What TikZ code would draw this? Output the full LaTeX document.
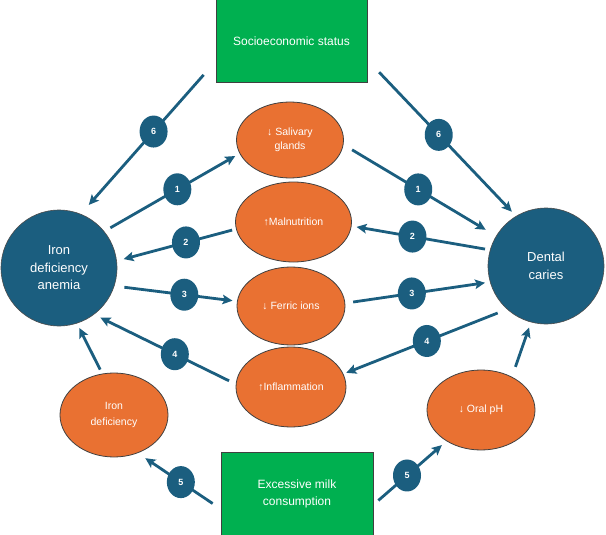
\documentclass[tikz,border=0pt]{standalone}
\usepackage{fontspec}
\setmainfont{Liberation Sans}
\usetikzlibrary{arrows.meta, shapes.geometric}
\definecolor{xblue}{HTML}{1B5E7F}
\definecolor{xorange}{HTML}{E97132}
\definecolor{xgreen}{HTML}{00B050}
\tikzset{
	factor/.style = {draw=black!75, line width=0.9pt, fill=xgreen, text=white, minimum width=151pt, minimum height=83pt, inner sep=0pt, align=center, font=\fontsize{12}{16.5}\selectfont},
	outcome/.style = {circle, draw=black!70, line width=0.6pt, fill=xblue, text=white, minimum size=116pt, inner sep=0pt, align=center, font=\fontsize{13}{17.5}\selectfont},
	mech/.style = {ellipse, draw=black!75, line width=0.8pt, fill=xorange, text=white, minimum width=108pt, minimum height=78pt, inner sep=0pt, align=center, font=\fontsize{10.5}{14.5}\selectfont},
	link/.style = {xblue, line width=2.8pt, -{Stealth[length=10pt, width=9.5pt, inset=2pt]}},
	badge/.style = {ellipse, fill=xblue, text=white, minimum width=28pt, minimum height=32pt, inner sep=0pt, font=\fontsize{9}{10}\selectfont\bfseries},
}

\begin{document}
\begin{tikzpicture}[x=1pt, y=-1pt]
	\useasboundingbox (0,0) rectangle (606,535);
	\node[factor] (ses)  at (291.5,41) {Socioeconomic status};
	\node[factor, minimum width=152pt, minimum height=84pt] (milk) at (297,494) {Excessive milk\\consumption};
	\node[outcome] (anemia) at (59,268)  {Iron\\deficiency\\anemia};
	\node[outcome] (caries) at (546,266) {Dental\\caries};
	\node[mech, minimum width=107pt, minimum height=76pt] (saliva) at (290,140) {↓ Salivary\\glands};
	\node[mech, minimum width=116pt, minimum height=80pt] (malnut) at (293.5,222) {↑Malnutrition};
	\node[mech] (ferric) at (291,306) {↓ Ferric ions};
	\node[mech, minimum width=110pt, minimum height=80pt] (inflam) at (291,387) {↑Inflammation};
	\node[mech, minimum height=84pt, font=\fontsize{10.5}{16}\selectfont] (irondef) at (114,415) {Iron\\deficiency};
	\node[mech, minimum height=80pt, font=\fontsize{10.5}{14}\selectfont] (oralph) at (481,410) {↓ Oral pH};

	\draw[link, shorten <=18pt, shorten >=12pt] (ses.195) -- (anemia.68) node[badge, pos=0.46] {6};
	\draw[link, shorten <=17pt, shorten >=6pt] (ses.-14) -- (caries.121) node[badge, pos=0.48] {6};
	\draw[link, shorten <=7pt, shorten >=5pt] (anemia.39) -- (saliva.195) node[badge, pos=0.54] {1};
	\draw[link, shorten <=10pt, shorten >=12pt] (saliva.-5) -- (caries.149) node[badge, pos=0.49] {1};
	\draw[link, shorten <=4pt, shorten >=7pt] (malnut.187) -- (anemia.7) node[badge, pos=0.42] {2};
	\draw[link, shorten <=5pt, shorten >=5pt] (caries.164) -- (malnut.-4) node[badge, pos=0.56] {2};
	\draw[link, shorten <=10pt, shorten >=4.5pt] (anemia.-18) -- (ferric.175) node[badge, pos=0.57] {3};
	\draw[link, shorten <=8pt, shorten >=5pt] (ferric.3) -- (caries.196) node[badge, pos=0.46] {3};
	\draw[link, shorten <=7.5pt, shorten >=7pt] (inflam.177) -- (anemia.-53) node[badge, pos=0.43] {4};
	\draw[link, shorten <=10pt, shorten >=3pt] (caries.228) -- (inflam.14) node[badge, pos=0.49] {4};
	\draw[link, shorten <=4.5pt, shorten >=5pt] (irondef.106) -- (anemia.-72);
	\draw[link, shorten <=10.5pt, shorten >=5.5pt] (oralph.47) -- (caries.255);
	\draw[link, shorten <=9.5pt, shorten >=9pt] (milk.191) -- (irondef.-58) node[badge, pos=0.48] {5};
	\draw[link, shorten <=6.5pt, shorten >=6pt] (milk.-8) -- (oralph.222) node[badge, pos=0.46] {5};
\end{tikzpicture}
\end{document}
